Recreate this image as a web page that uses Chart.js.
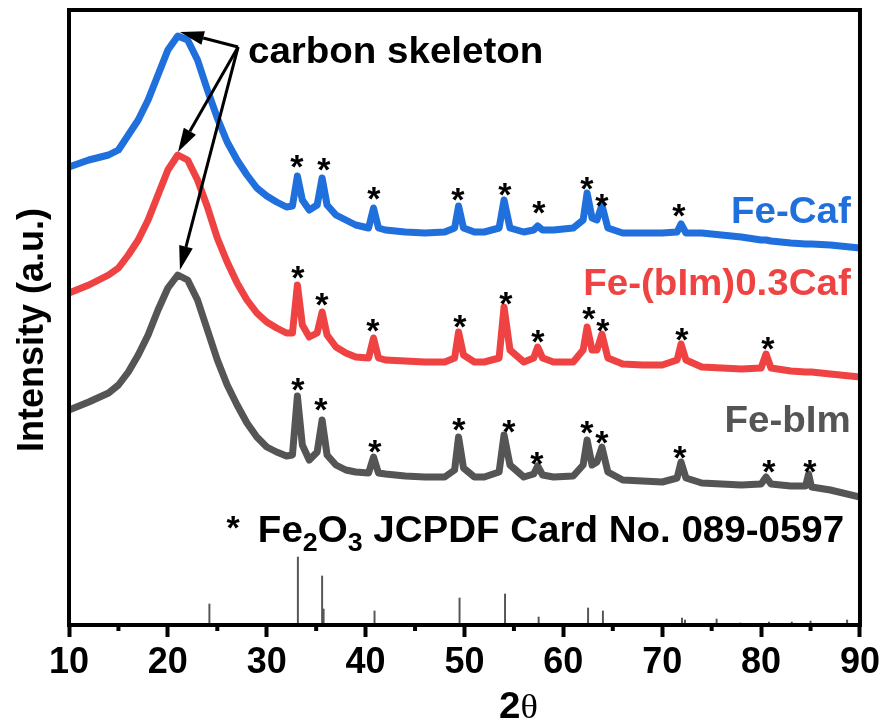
<!DOCTYPE html>
<html>
<head>
<meta charset="utf-8">
<title>XRD patterns</title>
<script src="https://cdn.jsdelivr.net/npm/chart.js@4.4.1/dist/chart.umd.min.js"></script>
<style>
  body { margin: 0; background: #fff; }
  #wrap { width: 884px; height: 724px; }
</style>
</head>
<body>
<div id="wrap"><canvas id="xrd"></canvas></div>
<script>
// 2theta positions the curves were read at (degrees)
const angles = [10, 12, 14, 15, 16, 17, 18, 19, 20, 21, 22, 23, 24, 25, 26, 27, 28, 29, 30, 31, 32, 32.6,
  33.1, 33.6, 34.3, 35.1, 35.6, 36.1, 37, 38, 39, 40.3, 40.8, 41.3, 42, 44, 46, 48, 49.0, 49.4, 49.9,
  51, 52, 53.5, 54.0, 54.6, 56, 57.0, 57.4, 57.9, 59, 61, 62.0, 62.4, 62.9, 63.4, 63.9, 64.5, 66, 68, 70,
  71.5, 71.9, 72.4, 74, 76, 78, 80, 80.5, 81, 83, 84.5, 84.8, 85.1, 87, 90];

// intensities (a.u., curves already offset as in the figure)
const feCaf = [458, 465, 470, 475, 490, 505, 525, 550, 575, 589, 585, 565, 535, 507, 483, 465, 450, 437, 429, 423, 418, 419,
  449, 425, 415, 420, 447, 420, 410, 405, 400, 397, 417, 397, 395, 393, 392, 393, 397, 419, 397,
  393, 393, 397, 425, 397, 393, 395, 399, 395, 395, 397, 405, 432, 407, 405, 420, 397, 392, 392, 392,
  393, 401, 392, 392, 390, 388, 385, 385, 384, 382, 381, 381, 381, 380, 377];
const feBimCaf = [332, 340, 350, 357, 370, 385, 405, 430, 455, 470, 465, 445, 418, 387, 363, 342, 325, 312, 303, 297, 292, 292,
  340, 300, 288, 292, 313, 290, 278, 272, 268, 267, 287, 267, 265, 264, 263, 263, 267, 293, 270,
  263, 263, 267, 318, 275, 263, 267, 278, 267, 263, 263, 275, 298, 275, 275, 291, 267, 261, 260, 260,
  265, 281, 265, 258, 257, 256, 257, 271, 257, 254, 253, 253, 253, 251, 248];
const feBim = [215, 223, 232, 240, 253, 270, 290, 315, 337, 350, 345, 325, 295, 265, 240, 220, 202, 188, 178, 173, 169, 170,
  229, 180, 165, 173, 205, 170, 160, 155, 153, 152, 168, 152, 151, 149, 148, 148, 155, 188, 157,
  148, 148, 153, 190, 160, 148, 151, 159, 150, 148, 149, 160, 185, 160, 163, 178, 153, 145, 144, 143,
  147, 163, 147, 142, 141, 140, 141, 148, 141, 139, 139, 151, 138, 135, 128];

// Fe2O3 reference card 089-0597: positions and stick heights
const refPos = [24.2, 33.15, 35.6, 35.75, 40.9, 49.5, 54.1, 57.5, 62.5, 64.0, 72.0, 72.3, 75.5, 77.9, 80.8, 83.1, 85.0, 88.7];
const refInt = [21, 68, 49, 16, 14, 27, 31, 8, 17, 14, 7, 5, 6, 2, 3, 3, 4, 5];

// asterisk markers over the indexed peaks
const starCafX = [33.05, 35.78, 40.84, 49.33, 54.09, 57.52, 62.38, 63.89, 71.68];
const starCafY = [464, 461, 432, 431, 436, 418, 442, 425, 415];
const starMixX = [33.15, 35.58, 40.74, 49.53, 54.19, 57.42, 62.58, 64.0, 71.98, 80.68];
const starMixY = [353, 326, 300, 304, 327, 289, 312, 300, 291, 282];
const starBimX = [33.15, 35.48, 40.94, 49.43, 54.49, 57.32, 62.38, 63.89, 71.78, 80.78, 84.92];
const starBimY = [241, 221, 179, 201, 199, 167, 198, 188, 173, 159, 159];

const names = ["Fe-Caf", "Fe-(bIm)0.3Caf", "Fe-bIm"];
const colors = ["#1f6fdc", "#ef4343", "#555555"];

const SANS = '"Liberation Sans", Arial, sans-serif';
const STRETCH = 1.07; // text in the figure is slightly wide

function pts(ys) {
  return angles.map((a, i) => ({ x: a, y: ys[i] }));
}

function lineSet(label, ys, color) {
  return {
    type: "line",
    label: label,
    data: pts(ys),
    borderColor: color,
    backgroundColor: color,
    borderWidth: 7,
    borderJoinStyle: "round",
    pointRadius: 0,
    tension: 0
  };
}

// draws text pieces left to right, each {t, size, dy, font}
function richText(ctx, parts, x, y) {
  ctx.save();
  ctx.translate(x, y);
  ctx.scale(STRETCH, 1);
  let cx = 0;
  parts.forEach(p => {
    ctx.font = (p.font || "bold " + p.size + "px " + SANS);
    ctx.fillText(p.t, cx, p.dy || 0);
    cx += ctx.measureText(p.t).width;
  });
  ctx.restore();
}

function star(ctx, px, py) {
  ctx.save();
  ctx.font = "bold 34px " + SANS;
  ctx.textAlign = "center";
  ctx.textBaseline = "alphabetic";
  const m = ctx.measureText("*");
  const mid = (m.actualBoundingBoxAscent - m.actualBoundingBoxDescent) / 2;
  ctx.fillStyle = "#000";
  ctx.fillText("*", px, py + mid);
  ctx.restore();
}

function arrow(ctx, x0, y0, x1, y1) {
  const ang = Math.atan2(y1 - y0, x1 - x0);
  const len = 24, half = 7;
  const bx = x1 - len * Math.cos(ang), by = y1 - len * Math.sin(ang);
  ctx.beginPath();
  ctx.moveTo(x0, y0);
  ctx.lineTo(bx, by);
  ctx.stroke();
  ctx.beginPath();
  ctx.moveTo(x1, y1);
  ctx.lineTo(bx + half * Math.sin(ang), by - half * Math.cos(ang));
  ctx.lineTo(bx - half * Math.sin(ang), by + half * Math.cos(ang));
  ctx.closePath();
  ctx.fill();
}

const decorations = {
  id: "decorations",
  afterDatasetsDraw(chart) {
    const ctx = chart.ctx;
    const xs = chart.scales.x, ys = chart.scales.y;
    const area = chart.chartArea;
    const X = v => xs.getPixelForValue(v), Y = v => ys.getPixelForValue(v);

    // frame
    ctx.save();
    ctx.strokeStyle = "#000";
    ctx.lineWidth = 4;
    ctx.strokeRect(area.left, area.top, area.right - area.left, area.bottom - area.top);

    // minor ticks
    ctx.lineWidth = 4;
    for (let v = 15; v < 90; v += 10) {
      ctx.beginPath();
      ctx.moveTo(X(v), area.bottom);
      ctx.lineTo(X(v), area.bottom + 6);
      ctx.stroke();
    }

    // asterisks
    starCafX.forEach((v, i) => star(ctx, X(v), Y(starCafY[i])));
    starMixX.forEach((v, i) => star(ctx, X(v), Y(starMixY[i])));
    starBimX.forEach((v, i) => star(ctx, X(v), Y(starBimY[i])));

    // arrows to the carbon hump
    ctx.strokeStyle = "#000";
    ctx.fillStyle = "#000";
    ctx.lineWidth = 3;
    const ox = X(27.1), oy = Y(578);
    arrow(ctx, ox, oy, X(21.22), Y(593));
    arrow(ctx, ox, oy, X(21.02), Y(473));
    arrow(ctx, ox, oy, X(21.22), Y(355));

    ctx.textAlign = "left";
    ctx.textBaseline = "alphabetic";
    ctx.fillStyle = "#000";
    richText(ctx, [{ t: "carbon skeleton", size: 36 }], X(28.1), Y(562));

    // series names, right aligned
    const nameBase = [402, 330, 193];
    names.forEach((n, i) => {
      ctx.font = "bold 36px " + SANS;
      const w = ctx.measureText(n).width * STRETCH;
      ctx.fillStyle = colors[i];
      richText(ctx, [{ t: n, size: 36 }], X(89.07) - w, Y(nameBase[i]));
    });

    // reference card caption
    ctx.fillStyle = "#000";
    star(ctx, X(26.6), Y(103));
    richText(ctx, [
      { t: "Fe", size: 36 }, { t: "2", size: 25, dy: 9 }, { t: "O", size: 36 }, { t: "3", size: 25, dy: 9 },
      { t: " JCPDF Card No. 089-0597", size: 36 }
    ], X(29.1), Y(83));

    // axis titles
    richText(ctx, [{ t: "2", size: 36 }, { t: "\u03b8", font: "34px \"Liberation Serif\", \"DejaVu Serif\", serif" }], 499, 718);
    ctx.save();
    ctx.translate(43, 452);
    ctx.rotate(-Math.PI / 2);
    ctx.font = "bold 36px " + SANS;
    ctx.fillText("Intensity (a.u.)", 0, 0);
    ctx.restore();
    ctx.restore();
  }
};

new Chart(document.getElementById("xrd"), {
  type: "line",
  data: {
    datasets: [
      lineSet(names[0], feCaf, colors[0]),
      lineSet(names[1], feBimCaf, colors[1]),
      lineSet(names[2], feBim, colors[2]),
      {
        type: "bar",
        label: "Fe2O3 089-0597",
        data: refPos.map((p, i) => ({ x: p, y: refInt[i] })),
        backgroundColor: "#555555",
        barThickness: 1.3
      }
    ]
  },
  options: {
    responsive: true,
    maintainAspectRatio: false,
    animation: false,
    layout: { padding: { left: 69, right: 24, top: 10, bottom: 0 } },
    plugins: { legend: { display: false }, tooltip: { enabled: false } },
    scales: {
      x: {
        type: "linear",
        min: 10,
        max: 90,
        offset: false,
        afterFit: s => { s.height = 99; },
        border: { display: true, color: "#000", width: 4 },
        grid: { offset: false, drawOnChartArea: false, tickLength: 12, tickWidth: 4, tickColor: "#000" },
        ticks: {
          stepSize: 10,
          padding: 4,
          color: "#000",
          font: { family: SANS, size: 36, weight: "bold" }
        }
      },
      y: { display: false, min: 0, max: 615 }
    }
  },
  plugins: [decorations]
});
</script>
</body>
</html>
